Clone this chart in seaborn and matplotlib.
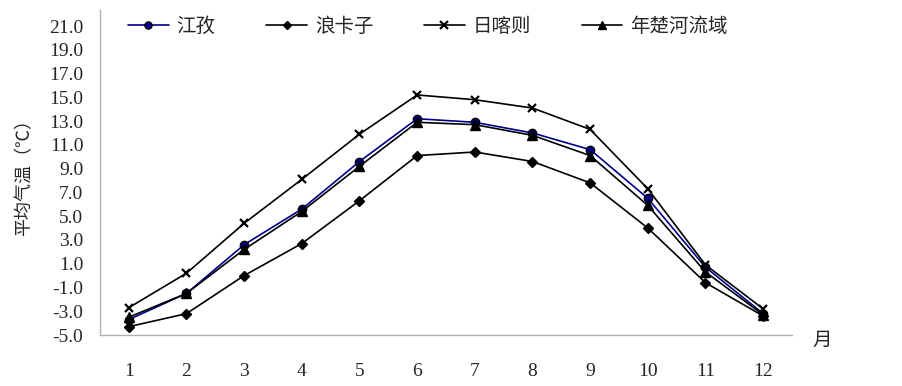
import numpy as np
import pandas as pd
import matplotlib
matplotlib.use("Agg")
import matplotlib.pyplot as plt
import seaborn as sns
from matplotlib.ticker import FixedLocator, FuncFormatter

# données
mois = [1, 2, 3, 4, 5, 6, 7, 8, 9, 10, 11, 12]
jiangzi = [-3.7, -1.5, 2.6, 5.6, 9.6, 13.2, 12.9, 12.0, 10.6, 6.5, 0.7, -3.2]
langkazi = [-4.3, -3.2, 0.0, 2.7, 6.3, 10.1, 10.4, 9.6, 7.8, 4.0, -0.6, -3.4]
rikaze = [-2.7, 0.2, 4.4, 8.1, 11.9, 15.2, 14.8, 14.1, 12.3, 7.3, 0.9, -2.8]
nianchu = [-3.5, -1.5, 2.2, 5.4, 9.2, 12.9, 12.7, 11.8, 10.1, 5.9, 0.3, -3.3]

noms = ['江孜', '浪卡子', '日喀则', '年楚河流域']
series = [jiangzi, langkazi, rikaze, nianchu]
couleurs = ['#00008b', 'black', 'black', 'black']
marqueurs = ['o', 'D', 'x', '^']
tailles = [6, 5, 6, 7]

df = pd.DataFrame({
    'mois': mois * len(noms),
    'temp': sum(series, []),
    'station': sum([[n] * len(mois) for n in noms], []),
})

sns.set_style('white')
plt.rcParams['font.family'] = ['Liberation Serif', 'Noto Sans CJK SC', 'DejaVu Sans']
plt.rcParams['axes.unicode_minus'] = False

fig = plt.figure(figsize=(9.03, 3.86), dpi=100)
ax = fig.add_axes([100 / 903, 1 - 335 / 386, 692 / 903, 325 / 386])

for nom, c, m, s in zip(noms, couleurs, marqueurs, tailles):
    sous = df[df['station'] == nom]
    sns.lineplot(data=sous, x='mois', y='temp', ax=ax, color=c, marker=m,
                 markersize=s, markeredgecolor='black',
                 markerfacecolor=c, markeredgewidth=1.0 if m != 'x' else 1.6,
                 linewidth=1.2, label=nom)

ax.set_xlim(0.5, 12.5)
ax.set_ylim(-5, 22.35)
ax.set_yticks(np.arange(-5, 22, 2))
ax.yaxis.set_major_formatter(FuncFormatter(lambda v, p: f'{v:.1f}'))
ax.set_xticks(mois)
ax.xaxis.set_minor_locator(FixedLocator(np.arange(0.5, 13, 1)))
ax.tick_params(axis='x', which='major', length=0, pad=20, labelsize=14)
ax.tick_params(axis='x', which='minor', length=8, direction='in', color='#b0b0b0', width=1)
ax.tick_params(axis='y', which='major', length=7, direction='in', color='#b0b0b0',
               width=1, labelsize=14, pad=12)

for k in ['top', 'right']:
    ax.spines[k].set_visible(False)
for k in ['left', 'bottom']:
    ax.spines[k].set_color('#b0b0b0')
    ax.spines[k].set_linewidth(1)

ax.set_xlabel('')
ax.set_ylabel('平均气温（℃）', fontsize=13, family=['Noto Sans CJK SC'], labelpad=11)
fig.text(812 / 903, 1 - 340 / 386, '月', fontsize=14, family=['Noto Sans CJK SC'],
         ha='left', va='center')

leg = ax.legend(loc='center left', bbox_to_anchor=(28 / 692, 1 - 16 / 325), ncol=4,
                frameon=False, handlelength=2.1, columnspacing=2.6, handletextpad=0.4,
                borderaxespad=0, borderpad=0, markerscale=0.85,
                prop={'family': 'Noto Sans CJK SC', 'size': 14})

fig.savefig('out.png', dpi=100)
